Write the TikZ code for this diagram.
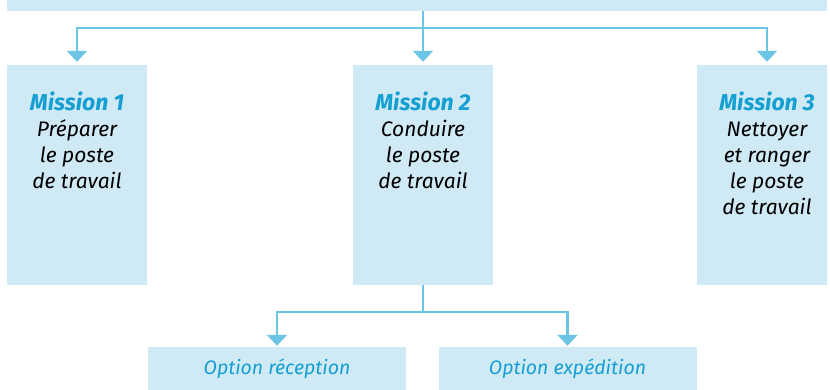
\documentclass[tikz,border=0pt]{standalone}
\usepackage{fontspec}
\setmainfont{Fira Sans}
\usetikzlibrary{arrows.meta,positioning}
\definecolor{boxblue}{HTML}{CFE9F5}
\definecolor{linkblue}{HTML}{6CC5E4}
\definecolor{titleblue}{HTML}{149FD2}

\begin{document}
\begin{tikzpicture}[x=1pt, y=1pt,
  box/.style={rectangle, fill=boxblue, inner sep=0pt, minimum width=140pt, minimum height=220pt},
  optbox/.style={rectangle, fill=boxblue, inner sep=0pt, minimum width=258pt, minimum height=43pt,
    font=\fontsize{19.5}{22}\selectfont\itshape, text=titleblue},
  txt/.style={align=center, inner sep=0pt, font=\fontsize{21}{26}\selectfont\itshape},
  link/.style={draw=linkblue, line width=2.2pt},
  >={Triangle[width=20pt, length=11pt]}
]
  \useasboundingbox (0,0) rectangle (830,390);
  \clip (0,0) rectangle (827,390);
  % Header bar
  \node[fill=boxblue, inner sep=0pt, minimum width=820pt, minimum height=14pt] (head) at (417,386) {};
  % Missions
  \foreach \i/\x/\txt in {1/77/{Préparer\\le poste\\de travail},
                          2/423/{Conduire\\le poste\\de travail},
                          3/767/{Nettoyer\\et ranger\\le poste\\de travail}} {
    \node[box] (m\i) at (\x,215) {};
    \node[txt, below=27pt of m\i.north] (t\i) {{\fontsize{23}{26}\selectfont\bfseries\color{titleblue}Mission \i}\\\txt};
  }
  % Options
  \node[optbox] (o1) at (277,21.5) {Option réception};
  \node[optbox] (o2) at (567.5,21.5) {Option expédition};
  % Links from the header
  \coordinate (hub) at (423,362);
  \draw[link, ->, shorten >=3pt] (head.south -| m2.north) -- (m2.north);
  \draw[link, ->, shorten >=3pt] (hub) -| (m1.north);
  \draw[link, ->, shorten >=3pt] (hub) -| (m3.north);
  % Links to the options
  \coordinate (split) at (423,78);
  \draw[link] (m2.south) -- (split);
  \draw[link, ->, shorten >=1pt] (split) -| (o1.north);
  \draw[link, ->, shorten >=1pt] (split) -| (o2.north);
\end{tikzpicture}
\end{document}
